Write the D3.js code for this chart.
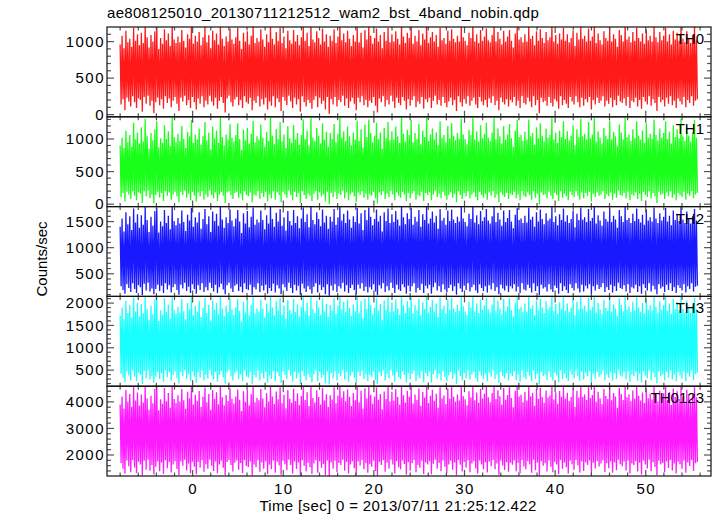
<!DOCTYPE html>
<html><head><meta charset="utf-8">
<script src="https://cdn.jsdelivr.net/npm/d3@7"></script>
<style>
html,body{margin:0;padding:0;background:#fff;}
text{font-family:"Liberation Sans",Arial,Helvetica,sans-serif;}
</style></head>
<body><svg id="c" width="717" height="516"></svg>
<script>
const title = "ae808125010_20130711212512_wam2_bst_4band_nobin.qdp";
const xLabel = "Time [sec] 0 = 2013/07/11 21:25:12.422";
const yLabel = "Counts/sec";
const bandNames = ["TH0","TH1","TH2","TH3","TH0123"];
const bandColors = ["#ff0000","#00ff00","#0000ff","#00ffff","#ff00ff"];
const timeRange = [-8.0, 55.7];
const xDomain = [-9.45, 57.2];
const xTicks = [0,10,20,30,40,50];
const yDomains = [[-30,1200],[-37,1340],[67,1786],[140,2150],[1210,4590]];
const yTicks = [[0,500,1000],[0,500,1000],[500,1000,1500],[500,1000,1500,2000],[2000,3000,4000]];
const yMinorStep = [100,100,100,100,200];

const th0 = [960,140,1080,210,910,60,1150,230,990,180,1040,110,930,250,1190,170,1010,90,1100,220,
950,200,1120,40,980,240,1230,150,1060,260,920,120,1090,190,1000,20,1140,170,1210,230,
900,130,1050,210,970,80,1170,250,1020,160,1110,220,940,100,1240,190,1030,240,980,150,
1070,50,990,230,1160,180,1010,260,920,130,1100,200,1040,90,1220,240,970,170,1080,70,
1000,220,1130,150,950,250,1060,100,1200,190,990,140,1090,260,910,180,1150,120,1020,230,
1110,80,960,190,1230,240,1040,160,940,30,1070,220,1000,260,1180,170,1030,110,970,210,
1060,240,1190,130,1010,200,900,90,1120,250,1000,170,1140,150,960,230,1080,60,1210,190,
980,160,1050,250,1000,110,1170,210,1030,140,930,230,1100,70,990,180,1240,120,1040,250,
960,100,1130,220,1010,170,1190,50,980,240,1070,190,910,130,1150,260,1020,180,970,90,
1160,230,1000,140,1090,210,950,40,1060,250,1220,170,1010,110,1120,200,940,160,1230,80,
1030,200,990,250,1140,100,1050,230,960,150,1180,190,1000,70,1100,240,930,10,1080,210,
1010,140,1170,240,980,110,1070,200,1240,170,1020,260,1110,120,990,220,1150,90,1040,180,
940,230,1090,150,1000,60,1200,230,990,170,1120,250,920,130,1160,200,1030,100,1210,190,
1080,160,970,240,1050,120,1180,30,1000,220,1090,170,910,250,1130,110,1010,200,1190,140,
990,260,1100,180,1000,90,1140,230,1040,160,960,130,1230,240,1070,190,980,70,1120,210,
1050,120,1210,200,970,250,1080,100,1000,180,1160,150,950,240,1110,80,1030,210,1240,170,
980,230,1060,90,1130,190,1000,260,1090,140,930,200,1190,120,1020,240,1050,160,970,100,
1150,180,1010,230,1170,130,1040,200,990,50,1080,250,1000,170,1220,110,1060,210,1010,150,
950,250,1120,120,1050,190,1230,230,1000,140,1100,90,980,240,1160,180,1010,130,1070,200,
1180,100,1020,220,990,160,1090,250,1240,130,1000,190,1130,60,1040,230,960,170,1150,140,
1000,210,1070,110,1160,200,1010,170,920,240,1110,120,1200,190,1030,90,1060,250,990,160,
1100,140,1000,230,1210,180,1040,100,1080,250,950,130,1140,200,1010,20,1170,230,1050,170,
980,190,1130,120,1020,240,1060,160,1240,110,1000,210,1090,180,970,80,1110,250,1030,130,
1190,200,1010,150,1100,90,990,240,1050,180,1150,140,940,250,1120,170,1030,100,1220,230,
1040,120,1080,210,1000,170,1180,240,1010,70,1070,200,1230,140,980,230,1110,160,1020,190,
960,250,1140,110,1050,190,1010,150,1200,230,1000,100,1100,200,1040,130,930,260,1160,180,
1090,160,1000,220,1240,120,1030,240,1070,90,990,190,1130,170,1010,230,1190,110,1050,200,
1000,80,1110,240,970,180,1170,140,1020,250,1080,120,1000,210,1210,160,1060,50,990,240,
1130,170,1020,200,1080,110,1190,230,1000,150,1100,250,960,130,1150,190,1030,90,1120,220,
1010,180,1230,140,1040,240,990,100,1140,200,1050,160,980,250,1090,120,1200,190,1020,210];

const th1 = [900,110,1020,170,860,40,1130,190,950,150,1060,80,880,200,1250,130,990,60,1100,180,
930,160,1180,20,960,200,1310,120,1040,210,850,90,1090,150,980,10,1150,140,1270,190,
870,100,1010,170,940,50,1210,200,1000,130,1120,180,890,70,1330,150,1030,190,950,120,
1080,30,970,190,1200,140,1000,210,860,100,1110,160,1040,60,1290,190,940,130,1070,40,
990,180,1160,120,910,200,1050,70,1260,150,980,110,1100,210,840,140,1190,90,1010,180,
1130,50,940,150,1320,190,1030,130,900,20,1070,180,990,200,1230,140,1020,80,960,170,
1060,190,1240,100,1000,160,830,60,1140,200,980,140,1170,120,930,180,1080,30,1280,150,
950,130,1040,200,990,80,1220,170,1020,110,880,190,1110,40,970,150,1340,90,1050,200,
920,70,1150,180,1000,140,1260,30,960,190,1070,150,860,100,1200,210,1010,140,940,60,
1210,190,990,110,1090,170,910,20,1060,200,1300,140,1000,80,1130,160,890,130,1320,50,
1020,160,970,200,1170,70,1050,180,930,120,1240,150,990,40,1110,190,880,0,1090,170,
1000,110,1230,190,950,80,1080,160,1330,140,1020,210,1120,90,970,180,1190,60,1040,150,
900,180,1100,120,990,30,1280,180,970,140,1150,200,870,100,1220,160,1030,70,1300,150,
1090,130,950,190,1050,90,1250,10,1000,180,1100,140,850,200,1170,80,1010,160,1260,110,
980,210,1120,150,990,60,1190,180,1040,130,940,100,1330,190,1080,150,960,40,1140,170,
1060,90,1290,160,950,200,1090,70,1000,140,1230,120,920,190,1130,50,1030,170,1320,140,
970,180,1070,60,1160,150,990,210,1100,110,900,160,1270,90,1020,190,1060,130,950,70,
1200,140,1010,180,1240,100,1050,160,980,30,1090,200,1000,140,1310,80,1070,170,1000,120,
920,200,1140,90,1060,150,1320,180,990,110,1120,60,960,190,1210,140,1010,100,1080,160,
1250,70,1020,180,970,130,1100,200,1330,100,990,150,1160,30,1040,180,930,140,1200,110,
990,170,1070,80,1230,160,1010,140,880,190,1130,90,1290,150,1030,60,1060,200,970,130,
1110,110,990,180,1300,140,1040,70,1090,200,910,100,1180,160,1010,0,1240,180,1050,140,
960,150,1160,90,1020,190,1060,130,1330,80,990,170,1100,140,940,50,1130,200,1030,100,
1270,160,1000,120,1120,60,980,190,1050,140,1210,110,900,200,1150,130,1030,70,1310,180,
1040,90,1080,170,990,130,1260,190,1010,40,1070,160,1320,110,960,180,1120,130,1020,150,
930,200,1170,80,1050,150,1000,120,1280,180,990,70,1110,160,1040,100,890,210,1220,140,
1100,130,990,170,1330,90,1030,190,1070,60,970,150,1150,130,1010,180,1270,80,1050,160,
990,50,1130,190,940,140,1240,110,1020,200,1080,90,1000,170,1300,120,1060,20,980,190,
1160,140,1020,160,1090,80,1270,180,1000,120,1110,200,930,100,1210,150,1030,60,1150,170,
1010,140,1310,110,1040,190,970,70,1180,160,1050,130,960,200,1100,90,1290,150,1020,170];

const th2 = [1400,260,1560,190,1310,120,1680,300,1450,230,1600,150,1340,320,1750,210,1480,130,1640,280,
1380,240,1620,90,1440,310,1786,180,1530,330,1300,160,1590,220,1420,110,1700,210,1770,290,
1290,170,1500,270,1410,130,1720,320,1470,200,1610,280,1350,140,1786,240,1510,300,1430,190,
1570,100,1460,290,1710,220,1490,330,1320,170,1630,250,1520,130,1760,300,1400,210,1580,120,
1480,280,1680,190,1360,320,1550,150,1740,240,1450,180,1600,330,1300,230,1690,160,1510,290,
1650,130,1420,240,1786,310,1540,200,1380,110,1580,280,1470,330,1730,220,1520,150,1410,270,
1560,300,1720,170,1500,250,1280,140,1660,320,1460,210,1700,190,1390,290,1590,100,1770,240,
1440,200,1540,320,1480,150,1710,270,1530,180,1350,290,1620,120,1460,230,1786,170,1550,310,
1400,140,1670,280,1500,220,1740,110,1420,300,1580,240,1330,170,1700,330,1510,230,1430,130,
1720,290,1470,180,1600,270,1370,100,1560,310,1770,220,1490,150,1640,260,1390,200,1786,120,
1530,250,1450,320,1680,140,1550,290,1410,190,1730,240,1480,110,1610,300,1360,80,1590,270,
1500,180,1740,300,1440,150,1580,260,1786,220,1520,330,1650,160,1470,280,1710,130,1540,230,
1380,290,1600,190,1490,110,1760,290,1460,220,1660,320,1340,170,1720,250,1530,140,1770,240,
1590,200,1430,300,1550,160,1730,90,1500,280,1610,220,1310,320,1680,150,1510,260,1750,180,
1470,330,1640,230,1490,130,1700,290,1540,200,1420,170,1786,300,1580,240,1450,120,1660,270,
1550,160,1760,260,1440,320,1590,140,1500,230,1720,190,1400,310,1640,130,1530,270,1786,220,
1460,290,1560,120,1690,240,1480,330,1610,180,1360,260,1740,150,1520,300,1570,200,1440,140,
1710,230,1510,290,1730,170,1540,260,1470,100,1590,320,1500,220,1780,150,1560,270,1490,190,
1410,320,1650,160,1550,240,1786,290,1480,180,1620,130,1450,300,1700,230,1510,170,1580,260,
1740,140,1520,280,1460,200,1600,320,1786,170,1490,240,1670,110,1540,290,1420,220,1710,180,
1490,270,1570,150,1720,260,1500,220,1370,300,1630,160,1760,250,1530,130,1560,320,1470,200,
1610,180,1480,290,1770,230,1540,140,1590,320,1400,170,1680,260,1500,90,1730,290,1550,220,
1450,240,1660,160,1520,300,1560,200,1786,150,1490,270,1600,230,1430,120,1640,320,1530,170,
1750,260,1500,190,1620,130,1470,300,1550,230,1710,180,1390,320,1650,220,1530,140,1770,290,
1540,160,1580,270,1490,220,1740,300,1510,110,1570,260,1786,180,1460,290,1620,210,1520,240,
1420,320,1690,150,1550,240,1500,190,1760,290,1490,140,1610,260,1540,170,1380,330,1720,230,
1600,210,1490,280,1786,160,1530,300,1570,130,1470,240,1650,220,1510,290,1750,150,1550,260,
1480,120,1630,300,1440,230,1730,180,1520,320,1580,160,1500,270,1770,200,1560,110,1470,300,
1660,220,1520,250,1590,150,1760,290,1500,190,1610,320,1430,170,1710,240,1530,130,1650,280,
1510,230,1786,180,1540,300,1470,140,1690,260,1550,210,1460,320,1600,160,1740,250,1520,270];

const th3 = [1720,420,1900,330,1640,230,2050,470,1780,380,1960,270,1680,490,2130,350,1810,250,2010,440,
1700,390,1980,190,1770,480,2150,310,1870,500,1620,290,1940,370,1750,220,2080,350,2140,460,
1600,300,1840,430,1740,240,2110,490,1800,340,1970,450,1660,260,2150,390,1850,470,1760,320,
1920,200,1790,460,2090,370,1820,500,1640,300,2000,410,1860,250,2140,470,1730,350,1940,220,
1810,450,2050,330,1690,490,1890,270,2120,390,1780,310,1960,500,1610,380,2060,290,1850,460,
2010,240,1750,390,2150,480,1880,340,1710,200,1940,450,1800,500,2100,370,1860,270,1740,430,
1900,470,2090,300,1830,410,1590,250,2030,490,1790,360,2070,330,1720,460,1950,190,2140,390,
1770,340,1880,490,1810,270,2080,430,1870,310,1680,460,1990,220,1790,380,2150,300,1900,480,
1730,250,2040,450,1840,370,2120,210,1750,470,1950,390,1650,300,2070,500,1850,380,1760,240,
2090,460,1800,310,1970,430,1700,190,1920,480,2140,370,1820,270,2010,420,1720,340,2150,230,
1870,400,1780,490,2050,250,1900,460,1740,330,2110,390,1810,200,1980,470,1690,180,1960,430,
1830,310,2120,470,1760,270,1940,420,2150,370,1860,500,2030,290,1800,450,2080,240,1890,380,
1710,460,1970,330,1820,210,2140,460,1790,370,2040,490,1670,300,2100,410,1870,250,2150,390,
1960,340,1750,470,1900,280,2110,190,1840,450,1980,370,1620,490,2060,270,1850,420,2130,310,
1800,500,2020,380,1820,240,2080,460,1880,340,1740,300,2150,470,1950,390,1780,220,2040,430,
1900,290,2140,420,1770,490,1960,250,1840,380,2100,320,1730,480,2020,230,1870,430,2150,370,
1790,460,1920,220,2070,400,1810,500,1990,310,1690,420,2130,270,1860,470,1940,340,1770,250,
2090,380,1850,460,2120,300,1880,420,1800,190,1960,490,1830,370,2150,270,1930,430,1820,320,
1740,490,2030,290,1900,400,2150,460,1810,320,1990,240,1780,470,2080,380,1850,300,1950,420,
2120,250,1860,440,1790,350,1970,490,2150,300,1820,400,2050,210,1880,460,1750,370,2090,310,
1820,430,1930,270,2110,420,1840,370,1700,470,2010,280,2140,410,1870,240,1920,490,1800,340,
1990,300,1810,460,2150,380,1880,250,1950,490,1730,300,2060,420,1840,180,2100,460,1900,370,
1780,400,2040,280,1860,470,1920,340,2150,270,1820,440,1980,380,1760,230,2020,490,1870,300,
2130,420,1830,320,1990,250,1800,470,1900,390,2090,310,1720,490,2030,370,1860,260,2150,460,
1880,290,1940,440,1820,370,2120,470,1850,210,1920,420,2150,310,1790,460,2000,350,1860,400,
1750,490,2070,270,1890,400,1830,330,2140,460,1810,260,1970,430,1880,300,1710,500,2110,380,
1960,350,1820,450,2150,290,1860,470,1930,240,1800,400,2030,370,1840,460,2130,260,1900,420,
1810,230,2000,470,1770,380,2100,320,1850,490,1950,280,1830,440,2150,340,1920,200,1790,470,
2040,370,1850,410,1960,270,2140,460,1830,330,1990,490,1760,290,2090,400,1870,250,2030,450,
1840,380,2150,310,1880,470,1790,250,2060,430,1900,350,1780,490,1970,280,2120,410,1860,440];

const th0123 = [3900,1700,4200,1480,3750,1300,4450,1790,4000,1580,4300,1350,3820,1810,4560,1530,4050,1320,4350,1750,
3850,1640,4280,1230,3980,1780,4590,1450,4130,1820,3700,1410,4230,1620,3950,1270,4480,1560,4570,1760,
3680,1390,4100,1720,3930,1290,4520,1800,4020,1500,4330,1740,3780,1340,4590,1640,4110,1770,3960,1470,
4250,1250,4010,1760,4480,1600,4060,1820,3740,1420,4380,1680,4140,1310,4570,1750,3900,1560,4270,1280,
4040,1740,4410,1530,3820,1800,4190,1370,4540,1650,3990,1480,4300,1820,3700,1600,4450,1400,4120,1760,
4360,1310,3910,1640,4590,1780,4170,1520,3870,1240,4260,1740,4030,1810,4500,1620,4120,1380,3940,1710,
4200,1790,4470,1450,4080,1700,3660,1320,4400,1810,4000,1590,4460,1550,3860,1760,4290,1230,4580,1640,
3990,1540,4150,1800,4060,1370,4480,1720,4130,1480,3800,1770,4330,1280,4010,1630,4590,1460,4200,1790,
3920,1330,4390,1750,4100,1610,4550,1260,3950,1780,4270,1650,3760,1430,4450,1820,4120,1620,3970,1300,
4490,1760,4030,1470,4320,1720,3880,1230,4220,1800,4580,1600,4070,1380,4360,1710,3840,1540,4590,1290,
4150,1680,3980,1800,4440,1330,4180,1770,3900,1520,4520,1660,4050,1250,4290,1790,3810,1210,4250,1720,
4090,1480,4550,1780,3950,1360,4240,1700,4590,1620,4160,1820,4400,1410,4020,1740,4470,1300,4190,1640,
3840,1770,4330,1500,4060,1260,4570,1760,3990,1610,4420,1810,3750,1460,4510,1690,4140,1330,4580,1650,
4270,1560,3930,1780,4200,1400,4540,1220,4080,1750,4300,1620,3720,1800,4390,1370,4110,1710,4560,1480,
4010,1820,4380,1640,4050,1300,4480,1770,4180,1540,3890,1460,4590,1790,4250,1660,3980,1270,4410,1730,
4190,1410,4570,1690,3940,1810,4280,1350,4070,1620,4500,1520,3850,1780,4370,1290,4160,1720,4590,1640,
3960,1770,4230,1280,4460,1670,4040,1820,4310,1480,3780,1700,4550,1390,4140,1790,4240,1560,3920,1320,
4510,1640,4120,1780,4560,1450,4190,1720,4000,1240,4280,1810,4050,1630,4590,1380,4220,1740,4100,1530,
3870,1800,4400,1350,4160,1680,4590,1770,4060,1490,4350,1300,3970,1790,4490,1640,4130,1460,4310,1720,
4570,1340,4170,1760,3990,1580,4330,1810,4590,1460,4110,1680,4440,1260,4210,1780,3900,1610,4520,1440,
4080,1730,4260,1370,4550,1710,4150,1630,3800,1790,4420,1390,4580,1700,4200,1310,4270,1810,3990,1570,
4370,1460,4050,1770,4590,1640,4210,1330,4340,1820,3850,1430,4480,1720,4120,1230,4530,1770,4180,1600,
3970,1690,4430,1380,4160,1790,4240,1560,4590,1350,4090,1740,4360,1640,3930,1290,4410,1810,4190,1480,
4560,1720,4120,1540,4340,1300,4030,1780,4180,1650,4500,1450,3820,1810,4420,1610,4160,1340,4590,1760,
4190,1400,4280,1730,4070,1620,4550,1790,4150,1270,4260,1710,4590,1490,4000,1770,4380,1570,4140,1680,
3910,1800,4480,1360,4220,1690,4110,1500,4580,1760,4060,1330,4330,1720,4200,1430,3780,1820,4520,1650,
4300,1580,4070,1760,4590,1420,4170,1790,4290,1300,4020,1680,4430,1620,4130,1770,4570,1380,4230,1710,
4050,1270,4350,1790,3960,1640,4510,1490,4140,1820,4310,1390,4090,1730,4590,1550,4270,1240,4010,1780,
4420,1640,4150,1700,4320,1350,4570,1760,4080,1510,4370,1810,3880,1420,4500,1680,4180,1300,4400,1750,
4110,1650,4590,1480,4210,1790,4000,1330,4460,1720,4230,1590,3960,1810,4290,1400,4550,1690,4170,1740];

const series = [th0, th1, th2, th3, th0123];

const left = 107, right = 711, top0 = 27, bottom = 476;
const ph = (bottom - top0) / 5;
const svg = d3.select("#c");
const x = d3.scaleLinear().domain(xDomain).range([left, right]);
const xMinor = d3.range(-8, 57, 2);
const frameColor = "#111";
const tickColor = "#555";
const fmt = d3.format("d");

svg.append("text").attr("x", left).attr("y", 18).attr("font-size", 15)
  .attr("letter-spacing", 0.3).attr("fill","#000").text(title);

series.forEach((vals, i) => {
  const pt = top0 + i * ph, pb = pt + ph;
  const y = d3.scaleLinear().domain(yDomains[i]).range([pb, pt]);
  const n = vals.length;
  const tScale = d3.scaleLinear().domain([0, n - 1]).range(timeRange);
  const g = svg.append("g");
  const cid = "clip" + i;
  svg.append("clipPath").attr("id", cid).append("rect")
    .attr("x", left).attr("y", pt).attr("width", right - left).attr("height", ph);
  const line = d3.line().x((d, j) => x(tScale(j))).y(d => y(d));
  g.append("path").datum(vals).attr("d", line).attr("fill", "none")
    .attr("stroke", bandColors[i]).attr("stroke-width", 1.3).attr("stroke-opacity", 0.9)
    .attr("stroke-linejoin", "bevel").attr("clip-path", `url(#${cid})`);

  const [y0, y1] = yDomains[i];
  const minors = d3.range(Math.ceil(y0 / yMinorStep[i]) * yMinorStep[i], y1, yMinorStep[i]);
  minors.forEach(v => {
    const major = yTicks[i].includes(v);
    const len = major ? 7 : 4;
    g.append("line").attr("x1", left).attr("x2", left + len).attr("y1", y(v)).attr("y2", y(v))
      .attr("stroke", tickColor).attr("stroke-width", 1.2);
    g.append("line").attr("x1", right).attr("x2", right - len).attr("y1", y(v)).attr("y2", y(v))
      .attr("stroke", tickColor).attr("stroke-width", 1.2);
  });
  const yAxis = d3.axisLeft(y).tickValues(yTicks[i]).tickFormat(fmt).tickSize(0).tickPadding(2);
  const ya = g.append("g").attr("transform", `translate(${left},0)`).call(yAxis);
  ya.select(".domain").remove();
  ya.selectAll("text").attr("font-size", 15).attr("fill", "#000")
    .attr("font-family", '"Liberation Sans",Arial,sans-serif').attr("letter-spacing", 1.5);

  xMinor.forEach(v => {
    const major = xTicks.includes(v);
    const len = major ? 6 : 3.5;
    g.append("line").attr("x1", x(v)).attr("x2", x(v)).attr("y1", pb).attr("y2", pb - len)
      .attr("stroke", tickColor).attr("stroke-width", 1.2);
    g.append("line").attr("x1", x(v)).attr("x2", x(v)).attr("y1", pt).attr("y2", pt + len)
      .attr("stroke", tickColor).attr("stroke-width", 1.2);
  });

  g.append("rect").attr("x", left).attr("y", pt).attr("width", right - left).attr("height", ph)
    .attr("fill", "none").attr("stroke", frameColor).attr("stroke-width", 1.2);

  g.append("text").attr("x", 704).attr("y", pt + 17).attr("text-anchor", "end")
    .attr("font-size", 15).attr("fill", "#000").text(bandNames[i]);
});

const xAxis = d3.axisBottom(x).tickValues(xTicks).tickFormat(fmt).tickSize(0).tickPadding(7);
const xa = svg.append("g").attr("transform", `translate(0,${bottom})`).call(xAxis);
xa.select(".domain").remove();
xa.selectAll("text").attr("font-size", 15).attr("fill", "#000")
  .attr("font-family", '"Liberation Sans",Arial,sans-serif').attr("letter-spacing", 1.5);

svg.append("text").attr("x", 398).attr("y", 511).attr("text-anchor", "middle")
  .attr("font-size", 15).attr("letter-spacing", 0.35).attr("fill", "#000").text(xLabel);
svg.append("text").attr("transform", `translate(47,259) rotate(-90)`).attr("text-anchor", "middle")
  .attr("font-size", 15).attr("fill", "#000").text(yLabel);
</script></body></html>
